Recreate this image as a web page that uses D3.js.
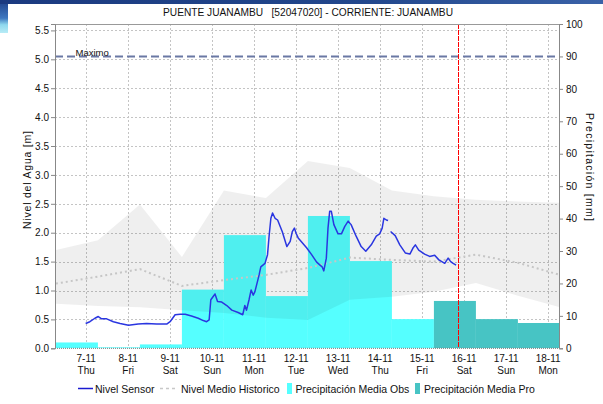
<!DOCTYPE html>
<html><head><meta charset="utf-8">
<script src="https://cdn.jsdelivr.net/npm/d3@7/dist/d3.min.js"></script>
<style>
body{margin:0;background:#fff;}
svg{display:block;font-family:"Liberation Sans",Arial,sans-serif;}
</style>
</head><body>
<svg id="c" width="603" height="404"></svg>
<script>
// ---------- DATA ----------
const title = "PUENTE JUANAMBU   [52047020] - CORRIENTE: JUANAMBU";
const dayLabels = ["7-11","8-11","9-11","10-11","11-11","12-11","13-11","14-11","15-11","16-11","17-11","18-11"];
const weekdayLabels = ["Thu","Fri","Sat","Sun","Mon","Tue","Wed","Thu","Fri","Sat","Sun","Mon"];
const leftTicks = [0,0.5,1,1.5,2,2.5,3,3.5,4,4.5,5,5.5];
const rightTicks = [0,10,20,30,40,50,60,70,80,90,100];

// precipitation (mm), daily totals for hydrological days starting 07:00
const obsDayIndex = [-1,0,1,2,3,4,5,6,7];
const obsValues   = [1.8,0.3,1.2,18.1,34.9,16.1,40.8,26.9,9.0];
const proDayIndex = [8,9,10];
const proValues   = [14.6,9.0,7.8];

// historic level (m) at 07:00 of each day
const histDayIndex = [-1,0,1,2,3,4,5,6,7,8,9,10,11];
const histMax  = [1.70,1.87,2.49,1.58,2.73,2.60,3.24,3.12,2.73,2.63,2.57,2.54,2.52];
const histMean = [1.12,1.24,1.37,1.08,1.18,1.27,1.39,1.57,1.53,1.50,1.62,1.48,1.27];
const histMin  = [0.77,0.73,0.71,0.66,0.61,0.53,0.49,0.84,0.89,0.98,1.13,0.91,0.71];

// sensor level (m); time in days since 7-11 00:00
const sensorDays = [0,0.10,0.22,0.30,0.38,0.50,0.66,0.82,1.02,1.25,1.45,1.69,1.93,2.01,2.13,2.25,2.37,2.52,2.68,2.80,2.88,2.94,2.98,3.08,3.14,3.24,3.36,3.48,3.63,3.74,3.79,3.83,3.89,3.94,3.99,4.03,4.13,4.17,4.27,4.33,4.37,4.41,4.45,4.51,4.57,4.68,4.79,4.87,4.92,4.97,5.01,5.06,5.26,5.38,5.50,5.58,5.63,5.67,5.73,5.77,5.81,5.85,5.91,6.01,6.09,6.17,6.25,6.32,6.44,6.56,6.67,6.80,6.92,7.00,7.06,7.10,7.16,7.20,7.23,7.26,7.37,7.48,7.61,7.72,7.79,7.85,7.93,8.07,8.19,8.31,8.41,8.55,8.63,8.69,8.75,8.82];
const sensorLevels = [0.43,0.46,0.52,0.55,0.51,0.51,0.46,0.43,0.40,0.42,0.43,0.42,0.42,0.46,0.58,0.59,0.59,0.56,0.52,0.48,0.46,0.49,0.84,0.94,0.81,0.80,0.74,0.66,0.62,0.58,0.74,0.66,0.84,1.01,0.92,0.98,1.27,1.41,1.47,1.62,1.96,2.25,2.34,2.25,2.22,2.02,1.76,1.85,2.02,2.08,1.99,1.91,1.74,1.62,1.49,1.44,1.41,1.34,1.56,2.08,2.37,2.37,2.14,1.98,1.98,2.11,2.20,2.14,1.94,1.76,1.68,1.79,1.94,1.98,2.08,2.25,2.22,2.21,null,2.02,1.95,1.79,1.65,1.63,1.73,1.79,1.70,1.63,1.59,1.61,1.53,1.47,1.56,1.50,1.47,1.44];

const maxLevel = 5.05;
const maxLabel = "Maximo";
const nowDay = 8.87;
const hydroOffset = 7/24;

const legendLabels = ["Nivel Sensor","Nivel Medio Historico","Precipitación Media Obs","Precipitación Media Pro"];
const leftTitle = "Nivel del Agua [m]";
const rightTitle = "Precipitación [mm]";

// ---------- LAYOUT ----------
const L = 55, R = 559, T = 24, B = 348.3;
const svg = d3.select("#c");

const x = d3.scaleLinear().domain([-0.73, 11.27]).range([L, R]);
const yL = d3.scaleLinear().domain([0, maxLevel/0.9]).range([B, T]);
const yR = d3.scaleLinear().domain([0, 100]).range([B, T]);

// header decoration
const defs = svg.append("defs");
const g1 = defs.append("linearGradient").attr("id","hdr").attr("x1","0").attr("x2","1");
g1.append("stop").attr("offset","0").attr("stop-color","#1b3a80");
g1.append("stop").attr("offset","0.6").attr("stop-color","#22478c");
g1.append("stop").attr("offset","1").attr("stop-color","#3a62a8");
const g2 = defs.append("linearGradient").attr("id","side").attr("x1","0").attr("x2","0").attr("y1","0").attr("y2","1");
g2.append("stop").attr("offset","0").attr("stop-color","#1e3f88");
g2.append("stop").attr("offset","0.55").attr("stop-color","#3f78c0");
g2.append("stop").attr("offset","0.75").attr("stop-color","#8fd8ee");
g2.append("stop").attr("offset","1").attr("stop-color","#b8ecf6");
defs.append("clipPath").attr("id","plot").append("rect").attr("x",L).attr("y",T).attr("width",R-L).attr("height",B-T);

svg.append("rect").attr("x",0).attr("y",0).attr("width",603).attr("height",404).attr("fill","#fff");
svg.append("rect").attr("x",0).attr("y",0).attr("width",8).attr("height",33).attr("fill","url(#side)");
svg.append("rect").attr("x",0).attr("y",0).attr("width",603).attr("height",4).attr("fill","url(#hdr)");

// title
svg.append("text").attr("x",308).attr("y",16).attr("text-anchor","middle")
  .attr("font-size",10.5).attr("fill","#111").style("white-space","pre")
  .attr("textLength",290).attr("lengthAdjust","spacingAndGlyphs").text(title);

const plot = svg.append("g").attr("clip-path","url(#plot)");

// grid
plot.selectAll("line.gh").data(leftTicks.filter(v=>v>0)).join("line")
  .attr("x1",L).attr("x2",R).attr("y1",d=>Math.round(yL(d))+0.5).attr("y2",d=>Math.round(yL(d))+0.5)
  .attr("stroke","#c4c4c4").attr("stroke-dasharray","2,2");
plot.selectAll("line.gv").data(dayLabels.map((d,i)=>i)).join("line")
  .attr("x1",d=>Math.round(x(d))+0.5).attr("x2",d=>Math.round(x(d))+0.5).attr("y1",T).attr("y2",B)
  .attr("stroke","#c4c4c4").attr("stroke-dasharray","2,2");

// bars
function barRect(sel, idx, vals, color){
  sel.selectAll(null).data(idx.map((k,i)=>({k, v: vals[i]}))).join("rect")
    .attr("x", d=>x(Math.max(x.domain()[0], d.k + hydroOffset)))
    .attr("width", d=>x(Math.min(x.domain()[1], d.k + 1 + hydroOffset)) - x(Math.max(x.domain()[0], d.k + hydroOffset)))
    .attr("y", d=>yR(d.v)).attr("height", d=>yR(0)-yR(d.v))
    .attr("fill", color);
}
barRect(plot, obsDayIndex, obsValues, "#55ffff");
barRect(plot, proDayIndex, proValues, "#47c4c4");

// historic band
const hist = histDayIndex.map((k,i)=>({t:k+hydroOffset, lo:histMin[i], hi:histMax[i], m:histMean[i]}));
plot.append("path").datum(hist)
  .attr("d", d3.area().x(d=>x(d.t)).y0(d=>yL(d.lo)).y1(d=>yL(d.hi)))
  .attr("fill","rgba(0,0,0,0.062)");

// maximo line
plot.append("line").attr("x1",L).attr("x2",R).attr("y1",yL(maxLevel)).attr("y2",yL(maxLevel))
  .attr("stroke","#6a78a4").attr("stroke-width",2).attr("stroke-dasharray","8,4");
svg.append("text").attr("x",75.5).attr("y",yL(maxLevel)).attr("font-size",9.5).attr("fill","#111").text(maxLabel);

// mean line
plot.append("path").datum(hist)
  .attr("d", d3.line().x(d=>x(d.t)).y(d=>yL(d.m)))
  .attr("fill","none").attr("stroke","#c6c6c6").attr("stroke-width",2).attr("stroke-dasharray","2,3");

// sensor line
const sensor = sensorDays.map((t,i)=>({t, v: sensorLevels[i]}));
plot.append("path").datum(sensor)
  .attr("d", d3.line().defined(d=>d.v!==null).x(d=>x(d.t)).y(d=>yL(d.v)))
  .attr("fill","none").attr("stroke","#2a36e0").attr("stroke-width",1.5).attr("stroke-linejoin","round");

// now line
plot.append("line").attr("x1",Math.round(x(nowDay))+0.5).attr("x2",Math.round(x(nowDay))+0.5).attr("y1",T).attr("y2",B)
  .attr("stroke","#ff0000").attr("stroke-width",1).attr("stroke-dasharray","5,1");

// frame
svg.append("line").attr("x1",L).attr("x2",R).attr("y1",T+0.5).attr("y2",T+0.5).attr("stroke","#999");
svg.append("line").attr("x1",L).attr("x2",R).attr("y1",B).attr("y2",B).attr("stroke","#777").attr("stroke-dasharray","1,1");

// axes
const axL = svg.append("g").attr("transform",`translate(${L},0)`)
  .call(d3.axisLeft(yL).tickValues(leftTicks).tickFormat(d3.format(".1f")).tickSize(4).tickPadding(2));
const axR = svg.append("g").attr("transform",`translate(${R},0)`)
  .call(d3.axisRight(yR).tickValues(rightTicks).tickFormat(d3.format("d")).tickSize(4).tickPadding(3));
[axL, axR].forEach(a=>{
  a.select(".domain").attr("stroke","#888");
  a.selectAll(".tick line").attr("stroke","#888");
  a.selectAll(".tick text").attr("font-size",10).attr("fill","#111").attr("font-family","Liberation Sans, Arial, sans-serif");
});

const axB = svg.append("g").attr("transform",`translate(0,${B})`)
  .call(d3.axisBottom(x).tickValues(dayLabels.map((d,i)=>i)).tickSize(0).tickFormat(""));
axB.select(".domain").remove();
axB.selectAll(".tick").each(function(d){
  const t = d3.select(this).append("text").attr("fill","#111").attr("font-size",10)
    .attr("font-family","Liberation Sans, Arial, sans-serif").attr("text-anchor","middle");
  t.append("tspan").attr("x",0).attr("y",14).text(dayLabels[d]);
  t.append("tspan").attr("x",0).attr("y",26).text(weekdayLabels[d]);
});

// axis titles
svg.append("text").attr("transform","translate(27,180) rotate(-90)").attr("text-anchor","middle")
  .attr("dominant-baseline","central").attr("font-size",10.5).attr("fill","#111")
  .attr("textLength",98).attr("lengthAdjust","spacing").text(leftTitle);
svg.append("text").attr("transform","translate(590,167) rotate(90)").attr("text-anchor","middle")
  .attr("dominant-baseline","central").attr("font-size",10.5).attr("fill","#111")
  .attr("textLength",108).attr("lengthAdjust","spacing").text(rightTitle);

// legend
const ly = 388.5;
const lg = svg.append("g").attr("font-size",10.5).attr("fill","#111");
lg.append("line").attr("x1",78).attr("x2",93).attr("y1",ly).attr("y2",ly).attr("stroke","#1a1ad0").attr("stroke-width",1.5);
lg.append("text").attr("x",95).attr("y",ly).attr("dominant-baseline","central").text(legendLabels[0]);
lg.append("line").attr("x1",160).attr("x2",177).attr("y1",ly).attr("y2",ly).attr("stroke","#c8c8c8").attr("stroke-width",1.5).attr("stroke-dasharray","3,3");
lg.append("text").attr("x",181).attr("y",ly).attr("dominant-baseline","central").text(legendLabels[1]);
lg.append("rect").attr("x",287).attr("y",ly-5.5).attr("width",5).attr("height",11).attr("fill","#55ffff");
lg.append("text").attr("x",295.5).attr("y",ly).attr("dominant-baseline","central").text(legendLabels[2]);
lg.append("rect").attr("x",415).attr("y",ly-5.5).attr("width",5).attr("height",11).attr("fill","#47c4c4");
lg.append("text").attr("x",424).attr("y",ly).attr("dominant-baseline","central").text(legendLabels[3]);
</script>
</body></html>
